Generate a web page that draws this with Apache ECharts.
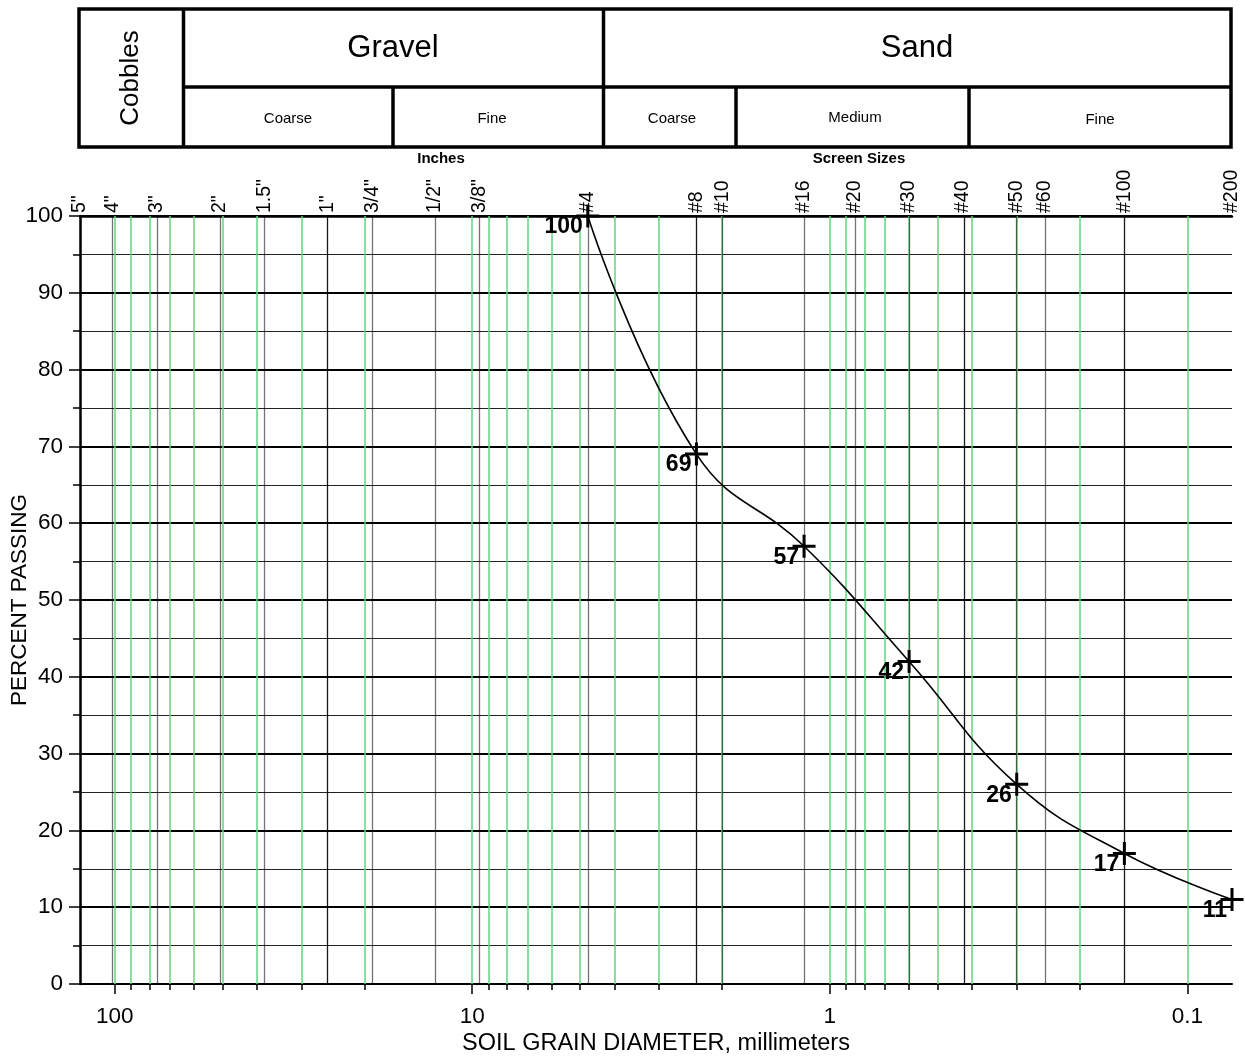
<!DOCTYPE html>
<html>
<head>
<meta charset="utf-8">
<script src="https://cdn.jsdelivr.net/npm/echarts@6/dist/echarts.min.js"></script>
<style>
html, body { margin: 0; padding: 0; background: #fff; }
#chart { width: 1245px; height: 1057px; }
</style>
</head>
<body>
<div id="chart"></div>
<script>
var FONT = '"Liberation Sans", Arial, sans-serif';

// sieve openings (mm) and their names along the top
var sieveLabels = ['5"', '4"', '3"', '2"', '1.5"', '1"', '3/4"', '1/2"', '3/8"', '#4',
                   '#8', '#10', '#16', '#20', '#30', '#40', '#50', '#60', '#100', '#200'];
var sieveSizes = [125, 101.6, 76.2, 50.8, 38.1, 25.4, 19.05, 12.7, 9.525, 4.75,
                  2.36, 2.0, 1.18, 0.85, 0.6, 0.425, 0.3, 0.25, 0.15, 0.075];
var darkSieves = ['1"', '#8', '#40', '#100'];

// log paper grid (green)
var logGrid = [0.1, 0.2, 0.3, 0.4, 0.5, 0.6, 0.7, 0.8, 0.9,
               1, 2, 3, 4, 5, 6, 7, 8, 9,
               10, 20, 30, 40, 50, 60, 70, 80, 90, 100];

// test results
var grainSizes = [4.75, 2.36, 1.18, 0.6, 0.3, 0.15, 0.075];
var percentPassing = [100, 69, 57, 42, 26, 17, 11];

var X_MIN = 0.075, X_MAX = 125;

function sieve_name(v){
    var best = 0;
    for (var i = 1; i < sieveSizes.length; i++) {
        if (Math.abs(Math.log(sieveSizes[i] / v)) < Math.abs(Math.log(sieveSizes[best] / v))) best = i;
    }
    return sieveLabels[best];
}

function log_axis(position, extra){
    var axis = {
        type: 'log',
        logBase: 10,
        position: position,
        min: X_MIN,
        max: X_MAX,
        inverse: true,
        splitLine: { show: false },
        axisLine: { show: false },
        axisTick: { show: false },
        axisLabel: { show: false }
    };
    for (var k in extra) axis[k] = extra[k];
    return axis;
}

var chart = echarts.init(document.getElementById('chart'));

var tableLine = { stroke: '#000', lineWidth: 3.5 };
function hline(x1, x2, y){ return { type: 'line', shape: { x1: x1, y1: y, x2: x2, y2: y }, style: tableLine }; }
function vline(x, y1, y2){ return { type: 'line', shape: { x1: x, y1: y1, x2: x, y2: y2 }, style: tableLine }; }
function label(text, x, y, size, weight, rot){
    return {
        type: 'text', x: x, y: y, rotation: rot || 0,
        style: {
            text: text, x: 0, y: 0, fill: '#000',
            font: (weight || 'normal') + ' ' + size + 'px ' + FONT,
            align: 'center', verticalAlign: 'middle',
            textAlign: 'center', textVerticalAlign: 'middle'
        }
    };
}

var options = {
    animation: false,
    textStyle: { fontFamily: FONT, color: '#000' },
    grid: { left: 80, right: 13, top: 216, bottom: 73, containLabel: false, outerBoundsMode: 'none' },
    xAxis: [
        log_axis('bottom', {
            name: 'SOIL GRAIN DIAMETER, millimeters',
            nameLocation: 'middle',
            nameGap: 48,
            nameMoveOverlap: false,
            nameTextStyle: { fontSize: 23.5, color: '#000', fontFamily: FONT },
            axisLine: { show: true, lineStyle: { color: '#000', width: 2 } },
            axisTick: { show: true, length: 10, lineStyle: { color: '#000', width: 1.5 } },
            axisLabel: { show: true, fontSize: 22.5, color: '#000', margin: 21,
                         showMinLabel: false, showMaxLabel: false,
                         formatter: function (v) { return String(+v.toPrecision(3)); } }
        }),
        log_axis('top', {
            axisLine: { show: true, lineStyle: { color: '#000', width: 2.5 } },
            axisLabel: { show: true, customValues: sieveSizes, rotate: -90, margin: 3,
                         fontSize: 19.5, color: '#000', formatter: sieve_name }
        }),
        log_axis('bottom', {
            axisTick: { show: true, customValues: logGrid, length: 6, lineStyle: { color: '#000', width: 1.5 } }
        })
    ],
    yAxis: {
        type: 'value',
        name: 'PERCENT PASSING',
        nameLocation: 'middle',
        nameGap: 49,
        nameMoveOverlap: false,
        nameTextStyle: { fontSize: 22.5, color: '#000', fontFamily: FONT },
        min: 0,
        max: 100,
        interval: 10,
        axisLine: { show: true, lineStyle: { color: '#000', width: 2.5 } },
        axisTick: { show: true, length: 11, lineStyle: { color: '#000', width: 1.5 } },
        minorTick: { show: true, splitNumber: 2, length: 7, lineStyle: { color: '#000', width: 1.5 } },
        splitLine: { show: true, lineStyle: { color: '#000', width: 1.8 } },
        minorSplitLine: { show: true, lineStyle: { color: '#222', width: 1 } },
        axisLabel: { fontSize: 22.5, color: '#000', margin: 17 }
    },
    graphic: [
        { type: 'rect', shape: { x: 79, y: 9, width: 1152, height: 138 }, style: { fill: 'none', stroke: '#000', lineWidth: 3.5 } },
        vline(183.5, 9, 147),
        vline(603.5, 9, 147),
        hline(183.5, 1231, 87),
        vline(393, 87, 147),
        vline(736, 87, 147),
        vline(969, 87, 147),
        label('Cobbles', 131, 78, 26, 'normal', Math.PI / 2),
        label('Gravel', 393, 48, 31),
        label('Sand', 917, 48, 31),
        label('Coarse', 288, 119, 15),
        label('Fine', 492, 119, 15),
        label('Coarse', 672, 119, 15),
        label('Medium', 855, 118, 15),
        label('Fine', 1100, 120, 15),
        label('Inches', 441, 159, 15, 'bold'),
        label('Screen Sizes', 859, 159, 15, 'bold')
    ],
    series: [
        {
            type: 'line', data: [], silent: true,
            markLine: {
                silent: true, symbol: ['none', 'none'], label: { show: false },
                lineStyle: { color: '#5fd67f', width: 1.5, type: 'solid' },
                data: logGrid.map(function (v) { return { xAxis: v }; })
            }
        },
        {
            type: 'line', data: [], silent: true,
            markLine: {
                silent: true, symbol: ['none', 'none'], label: { show: false },
                data: sieveSizes.map(function (v, i) {
                    var dark = darkSieves.indexOf(sieveLabels[i]) >= 0;
                    return {
                        xAxis: v,
                        lineStyle: {
                            type: 'solid',
                            color: dark ? 'rgba(0,0,0,0.9)' : 'rgba(0,0,0,0.55)',
                            width: i === sieveSizes.length - 1 ? 2 : 1.3
                        }
                    };
                })
            }
        },
        {
            type: 'line',
            z: 10,
            clip: false,
            smooth: 0.45,
            data: grainSizes.map(function (d, i) { return [d, percentPassing[i]]; }),
            lineStyle: { color: '#000', width: 1.6 },
            symbol: 'path://M10,0 L10,20 M0,10 L20,10',
            symbolSize: 23,
            itemStyle: { color: 'none', borderColor: '#000', borderWidth: 3 },
            label: {
                show: true, position: 'left', distance: 0, offset: [9, 11],
                fontSize: 23, fontWeight: 'bold', color: '#000', fontFamily: FONT,
                formatter: function (p) { return p.value[1]; }
            }
        }
    ]
};

chart.setOption(options);
</script>
</body>
</html>
